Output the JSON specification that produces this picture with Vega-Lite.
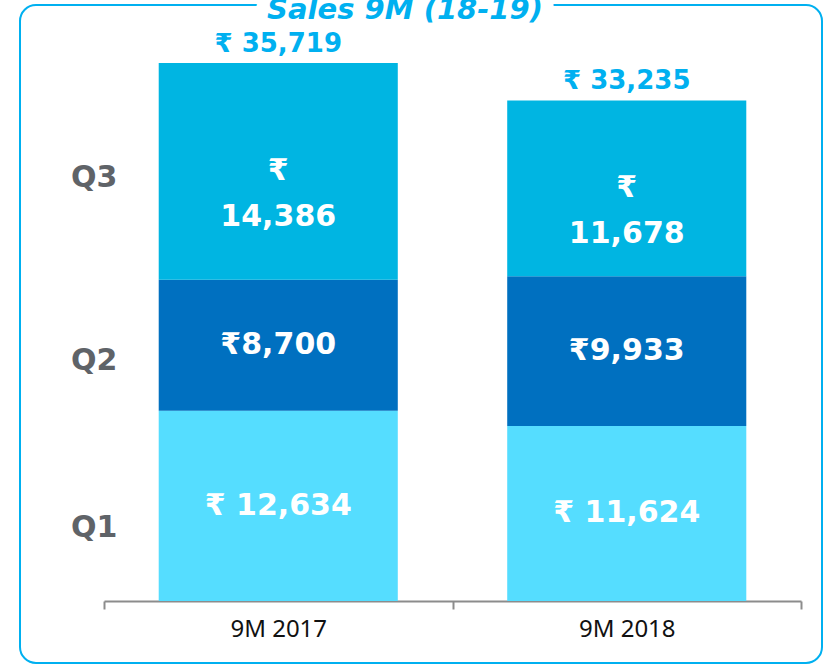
{
  "$schema": "https://vega.github.io/schema/vega-lite/v6.json",
  "width": 802,
  "height": 658,
  "autosize": {"type": "none"},
  "padding": {"left": 20, "top": 5, "right": 5, "bottom": 2},
  "background": "white",
  "config": {
    "view": {"stroke": "#00b0f0", "strokeWidth": 2, "cornerRadius": 16},
    "style": {"mask": {"fill": "white", "stroke": "white", "strokeWidth": 26}}
  },
  "title": {
    "text": "Sales 9M (18-19)",
    "subtitle": "Sales 9M (18-19)",
    "style": "mask",
    "color": "white",
    "font": "DejaVu Sans",
    "fontSize": 29,
    "fontStyle": "italic",
    "fontWeight": "bold",
    "subtitleFont": "DejaVu Sans",
    "subtitleFontSize": 29,
    "subtitleFontStyle": "italic",
    "subtitleFontWeight": "bold",
    "subtitleColor": "#00b0f0",
    "subtitlePadding": -29,
    "anchor": "middle",
    "dx": -16,
    "offset": -20
  },
  "datasets": {
    "sales": [
      {"period": "9M 2017", "quarter": "Q1", "sales": 12634, "label": "₹ 12,634"},
      {"period": "9M 2017", "quarter": "Q2", "sales": 8700, "label": "₹8,700"},
      {"period": "9M 2017", "quarter": "Q3", "sales": 14386, "label": "₹\n14,386"},
      {"period": "9M 2018", "quarter": "Q1", "sales": 11624, "label": "₹ 11,624"},
      {"period": "9M 2018", "quarter": "Q2", "sales": 9933, "label": "₹9,933"},
      {"period": "9M 2018", "quarter": "Q3", "sales": 11678, "label": "₹\n11,678"}
    ],
    "totals": [
      {"period": "9M 2017", "total": 35719, "label": "₹ 35,719"},
      {"period": "9M 2018", "total": 33235, "label": "₹ 33,235"}
    ]
  },
  "encoding": {
    "x": {
      "field": "period",
      "type": "nominal",
      "sort": ["9M 2017", "9M 2018"],
      "scale": {"range": [84, 781], "paddingInner": 0, "paddingOuter": 0},
      "axis": {
        "title": null,
        "orient": "bottom",
        "offset": -62,
        "domainColor": "#8c8c8c",
        "domainWidth": 2,
        "tickColor": "#8c8c8c",
        "tickWidth": 2,
        "tickSize": 8,
        "tickBand": "extent",
        "labelAngle": 0,
        "labelFont": "Noto Sans",
        "labelFontSize": 24,
        "labelColor": "#111111",
        "labelPadding": 8,
        "grid": false
      }
    }
  },
  "layer": [
    {
      "data": {"name": "sales"},
      "mark": {"type": "bar", "width": {"band": 0.686}},
      "encoding": {
        "y": {
          "field": "sales",
          "type": "quantitative",
          "stack": "zero",
          "scale": {"domain": [0, 35719], "range": [596, 58], "nice": false, "zero": true},
          "axis": {
            "title": null,
            "values": [4900, 16000, 28100],
            "labelExpr": "datum.value < 10000 ? 'Q1' : (datum.value < 20000 ? 'Q2' : 'Q3')",
            "domain": false,
            "ticks": false,
            "tickSize": 0,
            "grid": false,
            "offset": -100,
            "labelPadding": 3,
            "labelFont": "DejaVu Sans",
            "labelFontWeight": "bold",
            "labelFontSize": 30,
            "labelColor": "#5f6368",
            "labelBaseline": "middle"
          }
        },
        "color": {
          "field": "quarter",
          "type": "nominal",
          "scale": {"domain": ["Q1", "Q2", "Q3"], "range": ["#55ddff", "#0070c0", "#00b5e2"]},
          "legend": null
        },
        "order": {"field": "quarter", "sort": "ascending"}
      }
    },
    {
      "data": {"name": "sales"},
      "transform": [
        {"stack": "sales", "groupby": ["period"], "sort": [{"field": "quarter", "order": "ascending"}], "as": ["y0", "y1"]},
        {"fold": ["y0", "y1"], "as": ["edge", "pos"]},
        {"aggregate": [{"op": "mean", "field": "pos", "as": "mid"}], "groupby": ["period", "quarter", "label"]}
      ],
      "mark": {
        "type": "text",
        "color": "white",
        "font": "DejaVu Sans",
        "fontWeight": "bold",
        "fontSize": 30,
        "lineBreak": "\n",
        "lineHeight": 46,
        "baseline": "middle",
        "align": "center"
      },
      "encoding": {
        "y": {
          "field": "mid",
          "type": "quantitative",
          "stack": null,
          "scale": {"domain": [0, 35719], "range": [596, 58], "nice": false, "zero": true},
          "axis": {
            "title": null,
            "values": [4900, 16000, 28100],
            "labelExpr": "datum.value < 10000 ? 'Q1' : (datum.value < 20000 ? 'Q2' : 'Q3')",
            "domain": false,
            "ticks": false,
            "tickSize": 0,
            "grid": false,
            "offset": -100,
            "labelPadding": 3,
            "labelFont": "DejaVu Sans",
            "labelFontWeight": "bold",
            "labelFontSize": 30,
            "labelColor": "#5f6368",
            "labelBaseline": "middle"
          }
        },
        "text": {"field": "label", "type": "nominal"}
      }
    },
    {
      "data": {"name": "totals"},
      "mark": {
        "type": "text",
        "color": "#00b0f0",
        "font": "DejaVu Sans",
        "fontWeight": "bold",
        "fontSize": 26,
        "baseline": "bottom",
        "align": "center",
        "dy": -6
      },
      "encoding": {
        "y": {
          "field": "total",
          "type": "quantitative",
          "stack": null,
          "scale": {"domain": [0, 35719], "range": [596, 58], "nice": false, "zero": true},
          "axis": {
            "title": null,
            "values": [4900, 16000, 28100],
            "labelExpr": "datum.value < 10000 ? 'Q1' : (datum.value < 20000 ? 'Q2' : 'Q3')",
            "domain": false,
            "ticks": false,
            "tickSize": 0,
            "grid": false,
            "offset": -100,
            "labelPadding": 3,
            "labelFont": "DejaVu Sans",
            "labelFontWeight": "bold",
            "labelFontSize": 30,
            "labelColor": "#5f6368",
            "labelBaseline": "middle"
          }
        },
        "text": {"field": "label", "type": "nominal"}
      }
    }
  ]
}
